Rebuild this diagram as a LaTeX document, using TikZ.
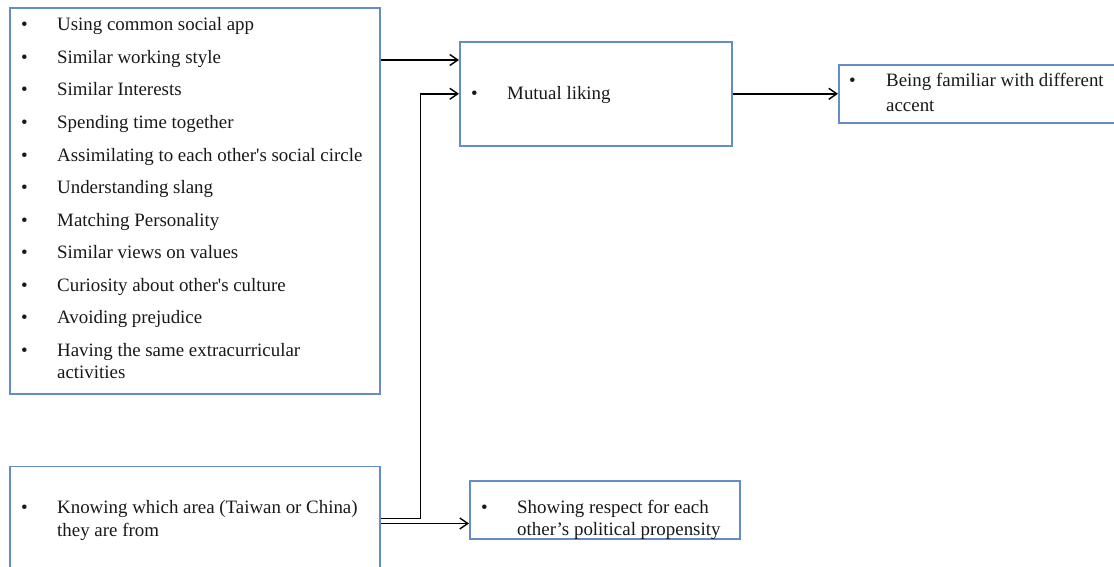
\documentclass[tikz,border=0pt]{standalone}
\usepackage{fontspec}
\setmainfont{Liberation Serif}[Ligatures=TeXOff]
\usetikzlibrary{arrows.meta}
\definecolor{boxblue}{RGB}{100,140,205}
\definecolor{ink}{RGB}{25,25,25}
\begin{document}
\begin{tikzpicture}[x=1pt,y=-1pt,
  box/.style={draw=boxblue,line width=1.6pt,rectangle,inner sep=0pt,anchor=north west},
  itemtext/.style={anchor=base west,inner sep=0pt,text=ink,font=\fontsize{18.9}{22}\selectfont},
  conn/.style={draw=black,line width=1.5pt,-{Straight Barb[length=8pt,width=11pt,line width=1.4pt]}}]
\useasboundingbox (0,0) rectangle (1114,567);
\clip (0,0) rectangle (1114,567);
\fill[white] (0,0) rectangle (1114,567);

% boxes
\node[box,minimum width=370pt,minimum height=386pt] (A) at (9,7) {};
\node[box,minimum width=272pt,minimum height=104pt] (B) at (459,41) {};
\node[box,minimum width=300pt,minimum height=58pt] (C) at (838,64) {};
\node[box,minimum width=370pt,minimum height=130pt] (D) at (9,465.5) {};
\node[box,minimum width=270pt,minimum height=58pt] (E) at (469,480) {};

% list of factors
\foreach \t [count=\i] in {Using common social app,Similar working style,Similar Interests,Spending time together,Assimilating to each other's social circle,Understanding slang,Matching Personality,Similar views on values,Curiosity about other's culture,Avoiding prejudice,Having the same extracurricular}{
  \node[itemtext] (ab\i) at (21,{31+32.5*(\i-1)}) {•};
  \node[itemtext] (at\i) at (57,{31+32.5*(\i-1)}) {\t};
}
\node[itemtext] (at12) at (57,378) {activities};

% mutual liking
\node[itemtext] (bb) at (471,100) {•};
\node[itemtext] (bt) at (507,100) {Mutual liking};

% accent
\node[itemtext] (cb) at (849,87) {•};
\node[itemtext] (ct1) at (886,87) {Being familiar with different};
\node[itemtext] (ct2) at (886,112) {accent};

% area
\node[itemtext] (db) at (21,513) {•};
\node[itemtext] (dt1) at (57,513) {Knowing which area (Taiwan or China)};
\node[itemtext] (dt2) at (57,536) {they are from};

% political propensity
\node[itemtext] (eb) at (481,513) {•};
\node[itemtext] (et1) at (517,513) {Showing respect for each};
\node[itemtext] (et2) at (517,535) {other’s political propensity};

% connectors
\draw[conn] ([yshift=-53pt]A.north east) -- ([yshift=-53pt]A.north east -| B.west);
\draw[conn] (B.east) -- (C.west |- B.east);
\draw[conn] ([yshift=-53pt]D.north east) -- ++(40,0) |- (B.west);
\draw[conn] ([yshift=-58pt]D.north east) -- ([yshift=-58pt]D.north east -| E.west);
\end{tikzpicture}
\end{document}
